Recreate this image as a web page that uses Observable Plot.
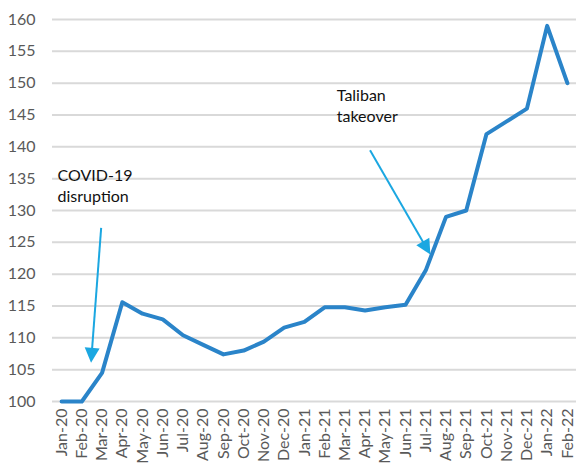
<!DOCTYPE html>
<html>
<head>
<meta charset="utf-8">
<script src="https://cdn.jsdelivr.net/npm/d3@7"></script>
<script src="https://cdn.jsdelivr.net/npm/@observablehq/plot@0.6"></script>
<style>
  html, body { margin: 0; padding: 0; background: #fff; }
  #chart { width: 576px; height: 470px; }
</style>
</head>
<body>
<div id="chart"></div>
<script>
// Monthly price index (Jan-20 = 100)
const months = ["Jan-20","Feb-20","Mar-20","Apr-20","May-20","Jun-20","Jul-20","Aug-20","Sep-20","Oct-20","Nov-20","Dec-20",
                "Jan-21","Feb-21","Mar-21","Apr-21","May-21","Jun-21","Jul-21","Aug-21","Sep-21","Oct-21","Nov-21","Dec-21",
                "Jan-22","Feb-22"];
const values = [100, 100, 104.5, 115.6, 113.8, 112.9, 110.4, 108.9, 107.4, 108.0, 109.4, 111.6,
                112.5, 114.8, 114.8, 114.3, 114.8, 115.2, 120.6, 129.0, 130.0, 142.0, 144.0, 146.0,
                159.0, 150.0];
const yTicks = [100, 105, 110, 115, 120, 125, 130, 135, 140, 145, 150, 155, 160];

// Annotations: label text with its position, and arrow start/end (month index, index value)
const noteLabels = ["COVID-19\ndisruption", "Taliban\ntakeover"];
const noteX = [-0.2, 13.6];
const noteY = [136.9, 149.5];
const arrowX1 = [1.98, 15.27];
const arrowY1 = [127.2, 139.4];
const arrowX2 = [1.48, 18.25];
const arrowY2 = [106.0, 123.0];

const series = months.map((m, i) => ({i, month: m, value: values[i]}));
const notes = noteLabels.map((t, k) => ({text: t, x: noteX[k], y: noteY[k]}));
const arrows = arrowX1.map((_, k) => ({x1: arrowX1[k], y1: arrowY1[k], x2: arrowX2[k], y2: arrowY2[k]}));

const font = "Lato, 'Open Sans', sans-serif";
const arrowColor = "#1ba7e1";
const headLen = 15, headHalf = 7.5;

const chart = Plot.plot({
  width: 576,
  height: 470,
  marginLeft: 52,
  marginRight: 0,
  marginTop: 19,
  marginBottom: 69,
  style: {fontFamily: font, background: "#fff"},
  x: {domain: [-0.45, 25.45]},
  y: {domain: [100, 160]},
  marks: [
    Plot.ruleY(yTicks, {stroke: "#d9d9d9", strokeWidth: 2}),
    Plot.axisY({ticks: yTicks, tickSize: 0, tickPadding: 17, fontSize: 16, fill: "#595959", label: null}),
    Plot.axisX({ticks: d3.range(months.length), tickFormat: i => months[i], tickRotate: -90,
                tickSize: 0, tickPadding: 7, fontSize: 16, fill: "#595959", label: null}),
    Plot.line(series, {x: "i", y: "value", stroke: "#2a84c9", strokeWidth: 4, strokeLinejoin: "round"}),
    Plot.text(notes, {x: "x", y: "y", text: "text", textAnchor: "start", lineAnchor: "top",
                      fontSize: 16, lineHeight: 1.3, fill: "#111"})
  ]
});

// Arrows: shaft plus filled triangular head, placed through the chart's own scales
const sx = chart.scale("x"), sy = chart.scale("y");
const g = d3.select(chart).append("g").attr("class", "arrows");
for (const a of arrows) {
  const px1 = sx.apply(a.x1), py1 = sy.apply(a.y1);
  const px2 = sx.apply(a.x2), py2 = sy.apply(a.y2);
  const ang = Math.atan2(py2 - py1, px2 - px1);
  const ux = Math.cos(ang), uy = Math.sin(ang);
  const bx = px2 - ux * headLen, by = py2 - uy * headLen;
  g.append("line")
    .attr("x1", px1).attr("y1", py1).attr("x2", bx + ux).attr("y2", by + uy)
    .attr("stroke", arrowColor).attr("stroke-width", 2);
  g.append("polygon")
    .attr("points", [[px2, py2], [bx - uy * headHalf, by + ux * headHalf], [bx + uy * headHalf, by - ux * headHalf]].map(p => p.join(",")).join(" "))
    .attr("fill", arrowColor);
}

document.getElementById("chart").appendChild(chart);
</script>
</body>
</html>
